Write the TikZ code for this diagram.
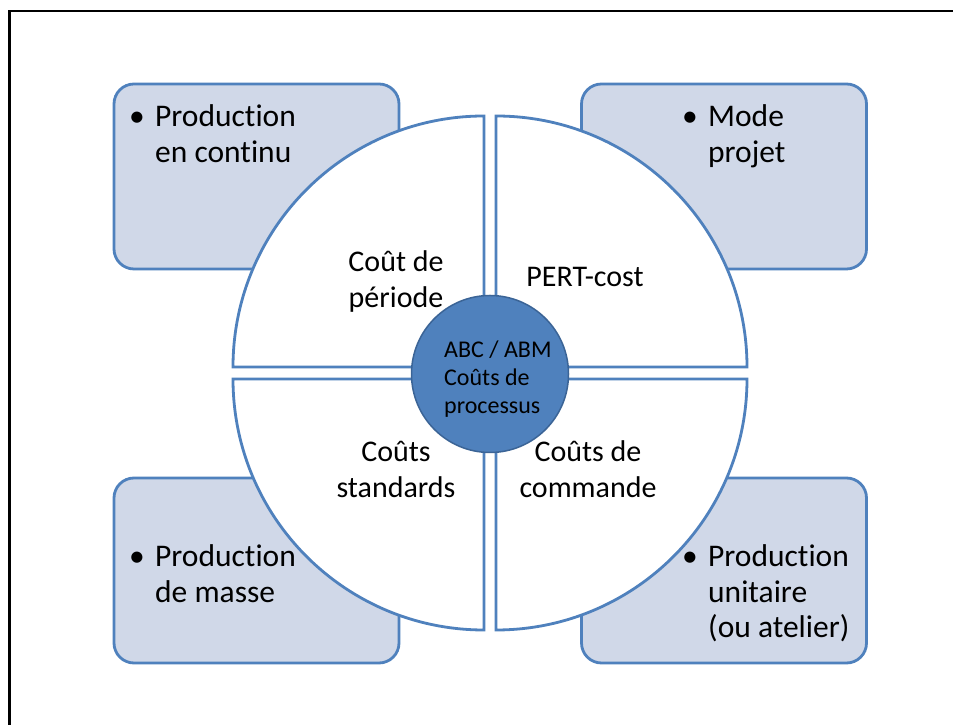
\documentclass[tikz,border=0pt]{standalone}
\usepackage{fontspec}
\setmainfont{Carlito}[Ligatures=NoCommon]
\definecolor{accent}{HTML}{4F81BD}
\definecolor{accentdark}{HTML}{3B6496}
\definecolor{boxfill}{HTML}{D0D8E8}
\tikzset{
  box/.style={draw=accent, fill=boxfill, line width=2.8pt, rounded corners=20pt,
    minimum width=285pt, minimum height=185pt, inner sep=0pt},
  quad/.style={draw=accent, fill=white, line width=2.8pt, line join=miter},
  boxtext/.style={inner sep=0pt, align=left, font=\fontsize{31.5}{35.5}\selectfont},
  bul/.style={inner sep=0pt, font=\fontsize{31.5}{35.5}\selectfont},
  quadtext/.style={inner sep=0pt, align=center, font=\fontsize{30}{36}\selectfont},
  hub/.style={circle, draw=accentdark, fill=accent, line width=1.5pt, minimum size=157pt, inner sep=0pt},
  hubtext/.style={inner sep=0pt, align=left, font=\fontsize{24}{28}\selectfont}
}
\begin{document}
\begin{tikzpicture}[x=1pt,y=1pt]
\fill[white] (0,0) rectangle (953,725);
\useasboundingbox (0,0) rectangle (953,725);
% frame
\draw[line width=2.5pt] (9.5,0) -- (9.5,714) -- (953,714);
% outer boxes
\node[box] (tl) at (256.5,548.5) {};
\node[box] (tr) at (724,548.5) {};
\node[box] (bl) at (256.5,154.5) {};
\node[box] (br) at (724,154.5) {};
% quadrants
\coordinate (qtl) at (484,358);
\coordinate (qtr) at (496,358);
\coordinate (qbl) at (484,346);
\coordinate (qbr) at (496,346);
\draw[quad] (qtl) -- ++(-251,0) arc[start angle=180, end angle=90, radius=251] -- cycle;
\draw[quad] (qtr) -- ++(0,251) arc[start angle=90, end angle=0, radius=251] -- cycle;
\draw[quad] (qbr) -- ++(251,0) arc[start angle=0, end angle=-90, radius=251] -- cycle;
\draw[quad] (qbl) -- ++(0,-251) arc[start angle=270, end angle=180, radius=251] -- cycle;
% center
\node[hub] (hub) at (490,351) {};
\node[hubtext, anchor=base west] (hubt) at (444,311) {ABC / ABM\\Coûts de\\processus};
% quadrant texts
\node[quadtext, anchor=base] (qt1) at (396,417) {Coût de\\période};
\node[quadtext, anchor=base] (qt2) at (585,438) {PERT-cost};
\node[quadtext, anchor=base] (qt3) at (396,227) {Coûts\\standards};
\node[quadtext, anchor=base] (qt4) at (588,227) {Coûts de\\commande};
% box texts
\node[bul, anchor=base] (b1) at (137,598) {•};
\node[boxtext, anchor=base west] (t1) at (155,562.5) {Production\\en continu};
\node[bul, anchor=base] (b2) at (690,598) {•};
\node[boxtext, anchor=base west] (t2) at (708,562.5) {Mode\\projet};
\node[bul, anchor=base] (b3) at (137,158) {•};
\node[boxtext, anchor=base west] (t3) at (155,122.5) {Production\\de masse};
\node[bul, anchor=base] (b4) at (690,158) {•};
\node[boxtext, anchor=base west] (t4) at (708,87) {Production\\unitaire\\(ou atelier)};
\end{tikzpicture}
\end{document}
